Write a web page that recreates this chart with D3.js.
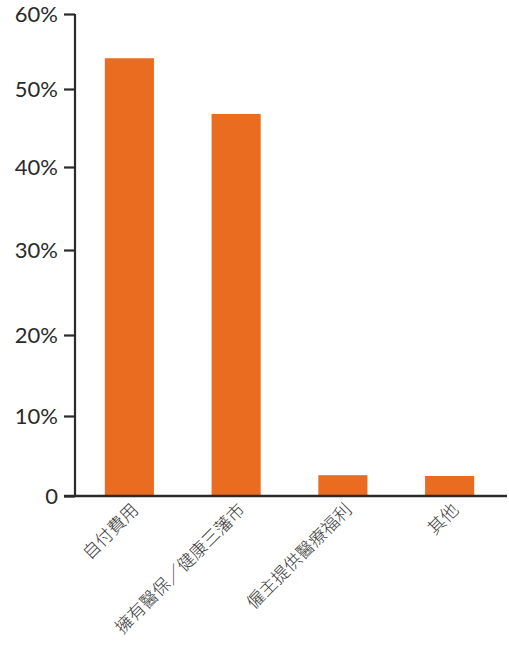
<!DOCTYPE html>
<html><head><meta charset="utf-8">
<script src="https://cdn.jsdelivr.net/npm/d3@7"></script>
<style>body{margin:0;background:#fff}svg{display:block}</style>
</head><body>
<svg id="c" width="509" height="645"></svg>
<script>
const categories = ["自付費用", "擁有醫保／健康三藩市", "僱主提供醫療福利", "其他"];
const values = [54.1, 46.8, 2.6, 2.5];
const tickValues = [0, 10, 20, 30, 40, 50, 60];
const tickLabels = ["0", "10%", "20%", "30%", "40%", "50%", "60%"];

const svg = d3.select("#c");
const x = d3.scaleBand().domain(categories).range([76, 503]).paddingInner(0.54).paddingOuter(0.27);
// axis in the reference is drawn with slightly uneven tick spacing
const y = d3.scaleLinear().domain(tickValues).range([496, 416, 335, 250, 167, 89, 14]);

svg.append("g").selectAll("rect").data(values).join("rect")
  .attr("x", (d, i) => x(categories[i]))
  .attr("width", x.bandwidth())
  .attr("y", d => y(d))
  .attr("height", d => y(0) - y(d) + 1)
  .attr("fill", "#E96C21");

const yAxis = svg.append("g").attr("transform", "translate(75,0)")
  .call(d3.axisLeft(y).tickValues(tickValues).tickFormat((d, i) => tickLabels[i]).tickSize(11).tickPadding(6));
yAxis.select(".domain").attr("d", `M0,${y(60)}V${y(0)}`).attr("stroke", "#2a2a2a").attr("stroke-width", 2.2);
yAxis.selectAll(".tick line").attr("stroke", "#2a2a2a").attr("stroke-width", 2.2);
yAxis.selectAll(".tick text").attr("font-family", "Lato, 'Open Sans', sans-serif").attr("font-size", 22).attr("fill", "#2a2a2a").attr("dy", "0.36em");

svg.append("line").attr("x1", 64).attr("x2", 507).attr("y1", y(0)).attr("y2", y(0))
  .attr("stroke", "#2a2a2a").attr("stroke-width", 2.4);

svg.append("g").selectAll("text").data(categories).join("text")
  .attr("transform", d => `translate(${x(d) + x.bandwidth() / 2 + 10},${y(0) + 15}) rotate(-45)`)
  .attr("text-anchor", "end")
  .attr("font-family", "'Noto Sans CJK TC', sans-serif")
  .attr("font-weight", 300)
  .attr("font-size", 17.5)
  .attr("fill", "#3a3a3a")
  .text(d => d);
</script>
</body></html>
